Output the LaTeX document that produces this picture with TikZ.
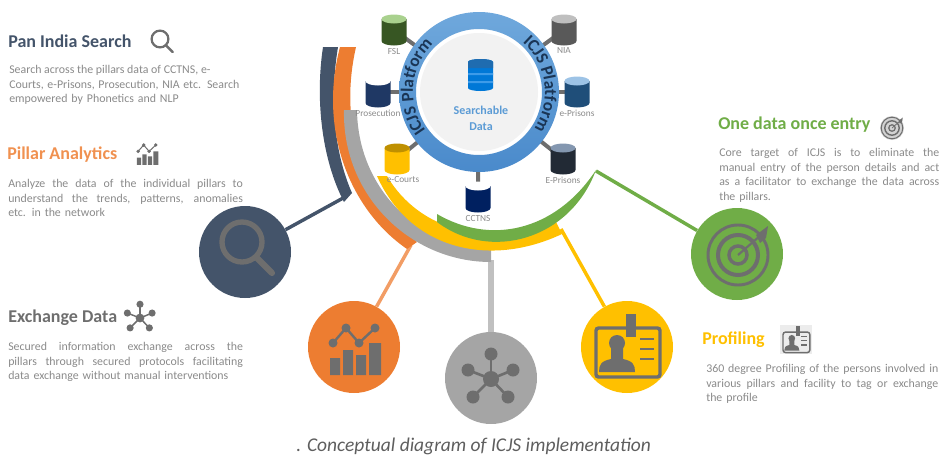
\documentclass[tikz,border=0pt]{standalone}
\usepackage{fontspec}
\setmainfont{Carlito}
\usetikzlibrary{decorations.text}
\definecolor{navyc}{HTML}{44546A}
\definecolor{orangec}{HTML}{ED7D31}
\definecolor{grayc}{HTML}{A5A5A5}
\definecolor{yellowc}{HTML}{FFC000}
\definecolor{greenc}{HTML}{70AD47}
\definecolor{ringc}{HTML}{5B9BD5}
\definecolor{ringtop}{HTML}{6FA8DC}
\definecolor{ringbot}{HTML}{4A8ACB}
\definecolor{icong}{HTML}{6E6E6E}
\definecolor{bodyt}{HTML}{8A8A8A}
\definecolor{ringt}{HTML}{1A3555}
\tikzset{
  bigdisc/.style={circle,inner sep=0pt,minimum size=69pt},
  head/.style={anchor=west,inner sep=0pt,font=\fontsize{13.5}{15}\bfseries\selectfont},
  para/.style={anchor=north west,inner sep=0pt,align=left,text=bodyt,font=\fontsize{8.9}{10.9}\selectfont},
  dblabel/.style={inner sep=0pt,text=bodyt,font=\fontsize{7}{8}\selectfont},
  stub/.style={draw=icong,line width=3pt},
  link/.style={line width=2.6pt},
}
\newcommand{\jl}[1]{\leavevmode\hbox to \hsize{\spaceskip=0pt\xspaceskip=0pt #1}}
% database cylinder: name, x, y, body, top, label
\newcommand{\cyl}[6]{%
  \coordinate (#1) at (#2,#3);
  \draw[stub] (#1) -- (hub);
  \definecolor{cb}{HTML}{#4}\definecolor{ct}{HTML}{#5}%
  \fill[cb] (#2-12.5,#3-11) -- (#2+12.5,#3-11) -- (#2+12.5,#3+11)
     arc (0:180:12.5 and 4.5) -- cycle;
  \fill[ct] (#2,#3-11) ellipse (12.5 and 4.5);
  \node[dblabel] (#1L) at (#2,#3+21) {#6};
}
\newcommand{\iconsearch}[4]{\begin{scope}[shift={(#1,#2)},scale=#3]
  \draw[#4,line width=#3*4pt] (0,0) circle (20);
  \draw[#4,line width=#3*4.6pt,line cap=round] (14,15) -- (30,31);
\end{scope}}
\newcommand{\iconchart}[4]{\begin{scope}[shift={(#1,#2)},scale=#3]
  \fill[#4] (-24,11) rectangle (-14,28) (-11,3) rectangle (-1,28)
            (2,8) rectangle (12,28) (15,-4) rectangle (27,28);
  \draw[#4,line width=#3*1.8pt] (-21,-4) -- (-8,-19) -- (5,-4) -- (21,-19);
  \foreach \p in {(-21,-4),(-8,-19),(5,-4),(21,-19)} \fill[#4] \p circle (4.5);
\end{scope}}
\newcommand{\iconnet}[4]{\begin{scope}[shift={(#1,#2)},scale=#3]
  \foreach \p in {(0,-25),(-23,-9),(22,-9),(-18,18),(17,18)} {
    \draw[#4,line width=#3*2pt] (0,0) -- \p;
    \fill[#4] \p circle (6.5);}
  \fill[#4] (0,0) circle (8);
\end{scope}}
\newcommand{\iconcard}[4]{\begin{scope}[shift={(#1,#2)},scale=#3]
  \draw[#4,line width=#3*2.6pt,rounded corners=2] (-31,-19) rectangle (33,30);
  \fill[#4] (-1,-33) rectangle (9,-10);
  \fill[#4] (-10,-4) circle (8);
  \fill[#4] (-16,0) -- (-4,0) -- (-4,12) .. controls (6,14) and (8,18) .. (8,25) -- (-28,25) .. controls (-28,18) and (-26,14) .. (-16,12) -- cycle;
  \draw[#4,line width=#3*2pt] (13,-8) -- (27,-8) (13,2) -- (27,2) (13,12) -- (27,12);
\end{scope}}
\newcommand{\icontarget}[4]{\begin{scope}[shift={(#1,#2)},scale=#3]
  \draw[#4,line width=#3*2.2pt] (0,0) circle (30);
  \draw[#4,line width=#3*3pt] (0,0) circle (20);
  \draw[#4,line width=#3*2.6pt] (0,0) circle (9);
  \draw[#4,line width=#3*1.6pt] (0,0) -- (23,-20);
  \fill[#4] (18,-20) -- (30,-29) -- (28,-17) -- (22,-12) -- cycle;
\end{scope}}
\begin{document}
\begin{tikzpicture}[x=0.75pt,y=-0.75pt]
\useasboundingbox (0,0) rectangle (939,454);
% arc end points
\coordinate (navyEnd) at (345,197);
\coordinate (orangeEnd) at (411,245);
\coordinate (grayEnd) at (491,260);
\coordinate (yellowEnd) at (561,229);
\coordinate (greenEnd) at (596,171);
% discs
\node[bigdisc,fill=navyc] (discA) at (245,252) {};
\node[bigdisc,fill=orangec] (discB) at (354,347) {};
\node[bigdisc,fill=grayc] (discC) at (491,378) {};
\node[bigdisc,fill=yellowc] (discD) at (627,347) {};
\node[bigdisc,fill=greenc] (discE) at (737,254) {};
% connectors
\draw[link,draw=navyc] (navyEnd) -- (discA);
\draw[link,draw=orangec!75!white] (orangeEnd) -- (discB);
\draw[link,draw=grayc!70!white,line width=4pt] (grayEnd) -- (discC);
\draw[link,draw=yellowc] (yellowEnd) -- (discD);
\draw[link,draw=greenc] (greenEnd) -- (discE);
% crescents
\fill[navyc] (323,47) -- (338,47) .. controls (330,95) and (333,150) .. (352,193) -- (344,202) .. controls (322,160) and (315,100) .. (323,47) -- cycle;
\fill[orangec] (340,47) -- (356,47) .. controls (344,100) and (345,175) .. (417,242) -- (407,249) .. controls (350,210) and (318,130) .. (340,47) -- cycle;
\fill[grayc] (344,110) -- (357,110) .. controls (358,190) and (420,248) .. (491,249) -- (491,262) .. controls (410,262) and (342,195) .. (344,110) -- cycle;
\fill[yellowc] (377,176) -- (387,176) .. controls (420,232) and (490,248) .. (556,222) -- (562,234) .. controls (490,268) and (410,250) .. (377,176) -- cycle;
\fill[greenc] (437,214) .. controls (490,245) and (555,232) .. (596,170) .. controls (570,240) and (490,262) .. (437,222) -- cycle;
% databases
\coordinate (hub) at (479,92);
\cyl{dbA}{394}{30}{375623}{A9D18E}{FSL}
\cyl{dbB}{564}{30}{595959}{BFBFBF}{NIA}
\cyl{dbC}{378}{92}{1F3864}{FFFFFF}{Prosecution}
\cyl{dbD}{577}{92}{1F4E79}{9DC3E6}{e-Prisons}
\cyl{dbE}{397}{159}{FFC000}{BF9000}{\hspace{9pt}e-Courts}
\cyl{dbF}{563}{159}{222A35}{8497B0}{E-Prisons}
\cyl{dbG}{478}{197}{002060}{FFFFFF}{CCTNS}
% ring
\fill[white] (hub) circle (66);
\shade[top color=ringtop,bottom color=ringbot,even odd rule] (hub) circle (80) (hub) circle (63);
\fill[black!5] (hub) circle (59);
\path[decorate,decoration={text along path,text align=center,
  text={|\fontsize{13}{13}\bfseries\selectfont\color{ringt}|ICJS Platform}}]
  (hub) ++(140:66) arc (140:230:66);
\path[decorate,decoration={text along path,text align=center,
  text={|\fontsize{13}{13}\bfseries\selectfont\color{ringt}|ICJS Platform}}]
  (hub) ++(305:66) arc (305:400:66);
% central database
\definecolor{dbmain}{HTML}{0078D7}\definecolor{dbtop}{HTML}{1F6CB0}\definecolor{dbstripe}{HTML}{3D9BE9}
\fill[dbmain] (468,62) arc (180:360:12.5 and 3) -- (493,88) arc (0:180:12.5 and 3) -- cycle;
\fill[dbtop] (468,62) arc (180:360:12.5 and 3) -- (493,68) -- (468,68) -- cycle;
\fill[dbstripe] (468,73) rectangle (493,75) (468,81) rectangle (493,83);
\node[inner sep=0pt,align=center,text=ringc,font=\fontsize{9}{12}\bfseries\selectfont] (core) at (481,118) {Searchable\\Data};
% big icons
\iconsearch{242}{242}{1}{icong}
\iconchart{354}{347}{1}{icong}
\iconnet{491}{379}{1}{icong}
\iconcard{627}{347}{1}{icong}
\icontarget{738}{255}{1}{icong}
% small icons
\iconsearch{160}{39}{0.42}{icong}
\iconchart{147}{153}{0.42}{icong}
\iconnet{140}{318}{0.55}{icong}
\fill[gray!15] (780,325) rectangle (812,354);
\iconcard{796}{340}{0.42}{icong}
\fill[gray!35] (892,128) circle (12);
\icontarget{892}{128}{0.36}{icong}
% headings
\node[head,text=navyc] (h1) at (8,41) {Pan India Search};
\node[head,text=orangec!85!white] (h2) at (7,155) {Pillar Analytics};
\node[head,text=icong] (h3) at (8,318) {Exchange Data};
\node[head,text=greenc] (h4) at (718,125) {One data once entry};
\node[head,text=yellowc] (h5) at (702,340) {Profiling};
% paragraphs
\node[para,text width=172.5pt] (p1) at (9,65) {\jl{Search across the pillars data of CCTNS, e-\hfil}\\\jl{Courts, e-Prisons, Prosecution, NIA etc. Search}\\empowered by Phonetics and NLP};
\node[para,text width=176pt] (p2) at (8,179) {\jl{Analyze the data of the individual pillars to}\\\jl{understand the trends, patterns, anomalies}\\etc. in the network};
\node[para,text width=176pt] (p3) at (8,342) {\jl{Secured information exchange across the}\\\jl{pillars through secured protocols facilitating}\\data exchange without manual interventions};
\node[para,text width=165pt] (p4) at (719,148) {\jl{Core target of ICJS is to eliminate the}\\\jl{manual entry of the person details and act}\\\jl{as a facilitator to exchange the data across}\\the pillars.};
\node[para,text width=174pt] (p5) at (706,364) {\jl{360 degree Profiling of the persons involved in}\\\jl{various pillars and facility to tag or exchange}\\the profile};
% caption
\node[anchor=west,inner sep=0pt,text=icong!85!black,font=\fontsize{14.6}{16}\itshape\selectfont] (cap) at (296,446) {. Conceptual diagram of ICJS implementation};
\end{tikzpicture}
\end{document}
